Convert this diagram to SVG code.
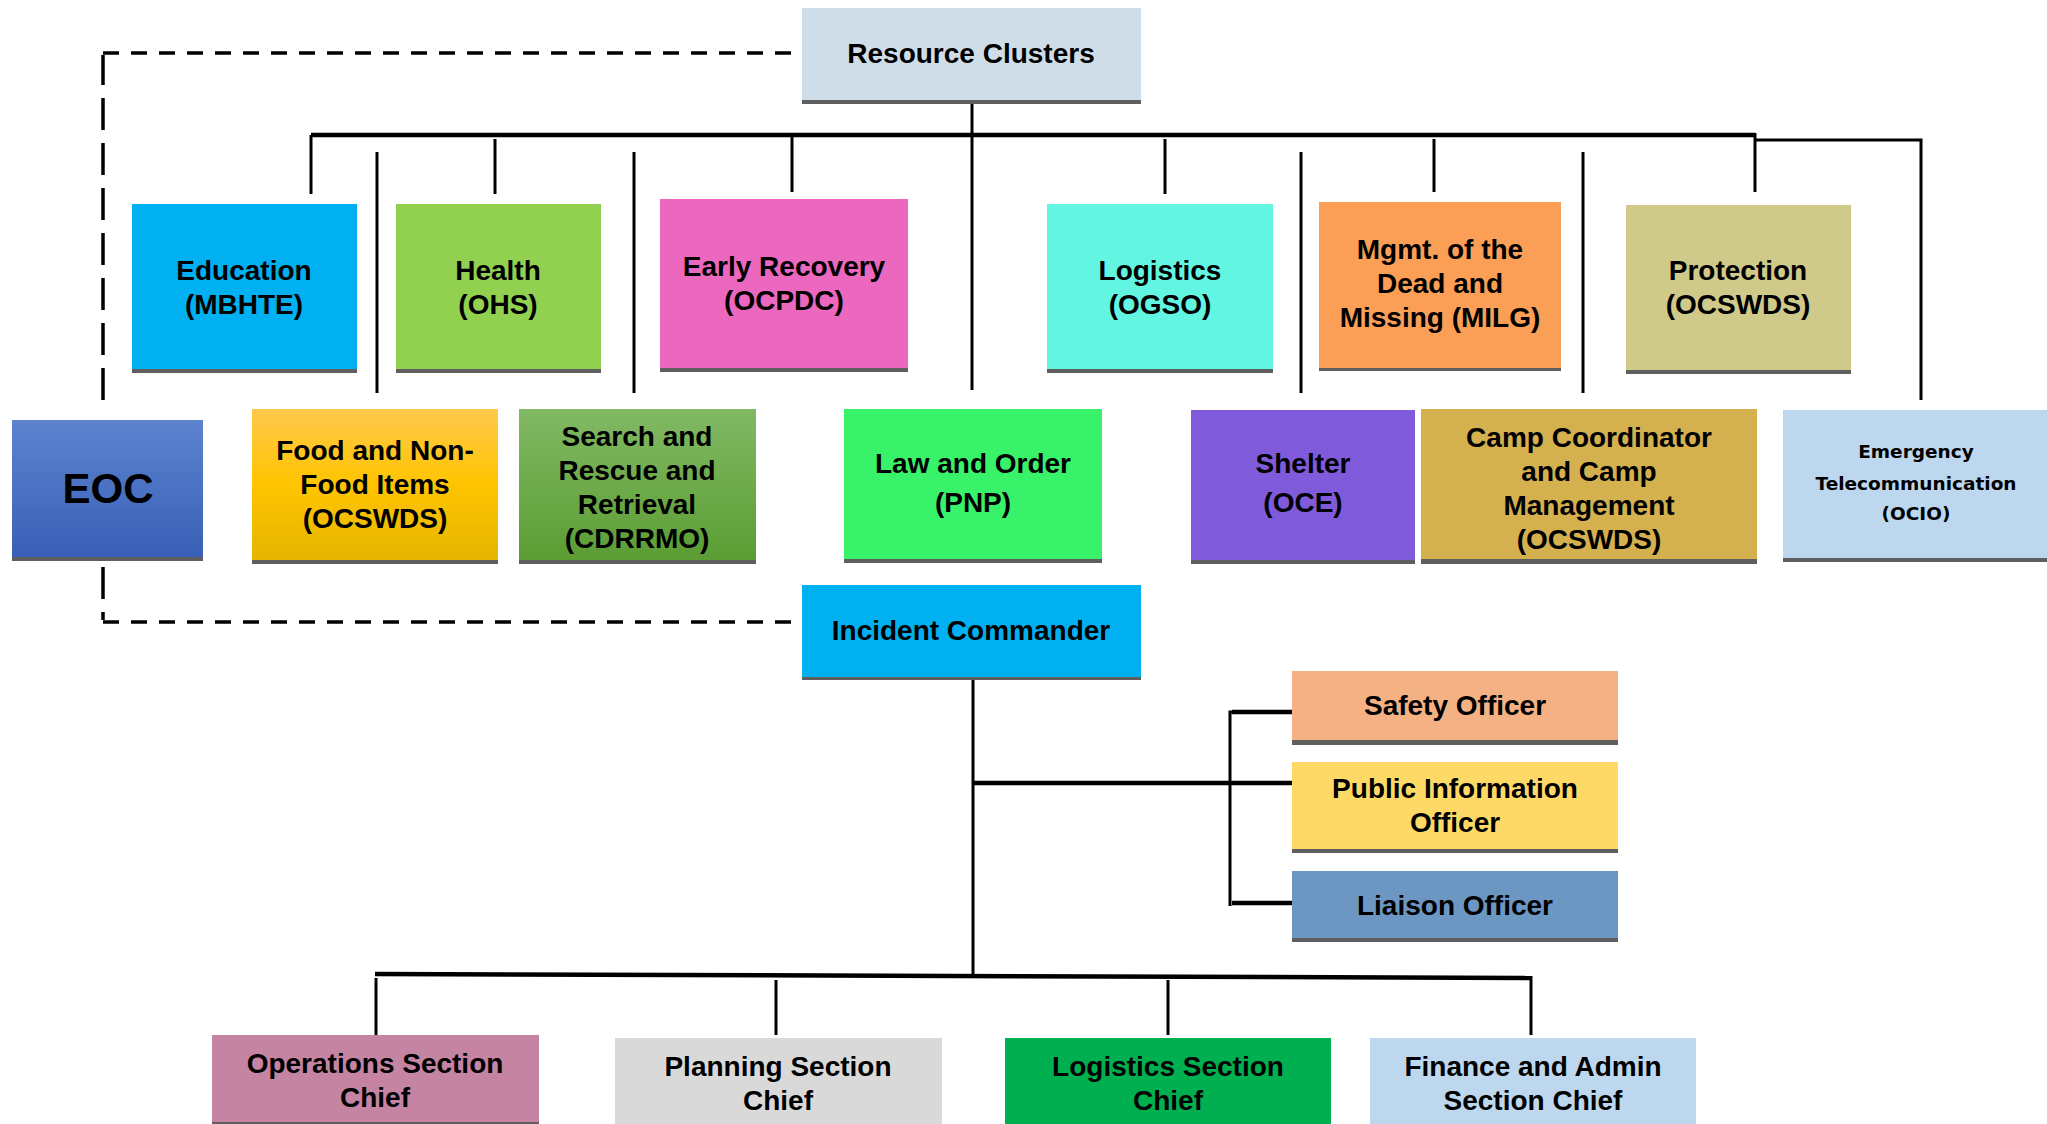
<svg xmlns="http://www.w3.org/2000/svg" width="2047" height="1124" viewBox="0 0 2047 1124">
<defs>
<style>
.t{font-family:"Liberation Sans",Arial,sans-serif;font-weight:bold;font-size:28px;fill:#000;text-anchor:middle}
.ts{font-family:"DejaVu Sans",sans-serif;font-weight:bold;font-size:18.5px;fill:#000;text-anchor:middle}
.sh{fill:#5f5f5f}
.ln{stroke:#000;stroke-width:3;fill:none}
.bus{stroke:#000;stroke-width:4.5;fill:none}
.dh{stroke:#000;stroke-width:3.5;fill:none;stroke-dasharray:16 12}
.dv{stroke:#000;stroke-width:3.5;fill:none;stroke-dasharray:32 13}
</style>
<linearGradient id="gEoc" x1="0" y1="0" x2="0" y2="1"><stop offset="0" stop-color="#5d83cf"/><stop offset="1" stop-color="#3860b6"/></linearGradient>
<linearGradient id="gFood" x1="0" y1="0" x2="0" y2="1"><stop offset="0" stop-color="#ffc94c"/><stop offset="0.5" stop-color="#ffc400"/><stop offset="1" stop-color="#e6b500"/></linearGradient>
<linearGradient id="gSar" x1="0" y1="0" x2="0" y2="1"><stop offset="0" stop-color="#82b964"/><stop offset="1" stop-color="#5b9d33"/></linearGradient>
</defs>
<rect width="2047" height="1124" fill="#fff"/>

<g id="connectors">
<path class="dv" d="M103,400 V55"/>
<path class="dh" d="M103,53 H792"/>
<path class="dv" d="M103,567 V620"/>
<path class="dh" d="M103,622 H792"/>
<path class="bus" d="M311,135 H1755"/>
<path class="ln" d="M972,103 V390"/>
<path class="ln" d="M311,135 V194"/>
<path class="ln" d="M377,152 V393"/>
<path class="ln" d="M495,139 V194"/>
<path class="ln" d="M634,152 V393"/>
<path class="ln" d="M792,135 V192"/>
<path class="ln" d="M1165,139 V194"/>
<path class="ln" d="M1301,152 V393"/>
<path class="ln" d="M1434,139 V192"/>
<path class="ln" d="M1583,152 V393"/>
<path class="ln" d="M1755,133 V192"/>
<path class="ln" d="M1755,140 H1921 V400"/>
<path class="ln" d="M973,680 V976"/>
<path class="bus" d="M973,783 H1292"/>
<path class="ln" d="M1292,712 H1230 V906"/>
<path class="bus" d="M1292,712 H1232"/>
<path class="bus" d="M1292,903 H1232"/>
<path class="bus" d="M375,974 L1531,978"/>
<path class="ln" d="M1531,976 V1035"/>
<path class="ln" d="M376,978 V1035"/>
<path class="ln" d="M776,980 V1035"/>
<path class="ln" d="M1168,980 V1035"/>
</g>

<g id="resource-clusters"><rect class="sh" x="802" y="11" width="339" height="93"/><rect x="802" y="8" width="339" height="92" fill="#cfdde9"/><text class="t" x="971" y="63">Resource Clusters</text></g>

<g id="education"><rect class="sh" x="132" y="207" width="225" height="166"/><rect x="132" y="204" width="225" height="165" fill="#00b0f0"/><text class="t" x="244" y="280">Education</text><text class="t" x="244" y="314">(MBHTE)</text></g>

<g id="health"><rect class="sh" x="396" y="207" width="205" height="166"/><rect x="396" y="204" width="205" height="165" fill="#92d050"/><text class="t" x="498" y="280">Health</text><text class="t" x="498" y="314">(OHS)</text></g>

<g id="early-recovery"><rect class="sh" x="660" y="202" width="248" height="170"/><rect x="660" y="199" width="248" height="169" fill="#ec67be"/><text class="t" x="784" y="276">Early Recovery</text><text class="t" x="784" y="310">(OCPDC)</text></g>

<g id="logistics"><rect class="sh" x="1047" y="207" width="226" height="166"/><rect x="1047" y="204" width="226" height="165" fill="#62f5e1"/><text class="t" x="1160" y="280">Logistics</text><text class="t" x="1160" y="314">(OGSO)</text></g>

<g id="mgmt-dead"><rect class="sh" x="1319" y="205" width="242" height="166"/><rect x="1319" y="202" width="242" height="166" fill="#fb9e56"/><text class="t" x="1440" y="259">Mgmt. of the</text><text class="t" x="1440" y="293">Dead and</text><text class="t" x="1440" y="327">Missing (MILG)</text></g>

<g id="protection"><rect class="sh" x="1626" y="208" width="225" height="166"/><rect x="1626" y="205" width="225" height="165" fill="#d0ca8a"/><text class="t" x="1738" y="280">Protection</text><text class="t" x="1738" y="314">(OCSWDS)</text></g>

<g id="eoc"><rect class="sh" x="12" y="423" width="191" height="138"/><rect x="12" y="420" width="191" height="137" fill="url(#gEoc)"/><text class="t" x="108" y="503" style="font-size:42px">EOC</text></g>

<g id="food"><rect class="sh" x="252" y="412" width="246" height="152"/><rect x="252" y="409" width="246" height="151" fill="url(#gFood)"/><text class="t" x="375" y="460">Food and Non-</text><text class="t" x="375" y="494">Food Items</text><text class="t" x="375" y="528">(OCSWDS)</text></g>

<g id="search-rescue"><rect class="sh" x="519" y="412" width="237" height="152"/><rect x="519" y="409" width="237" height="151" fill="url(#gSar)"/><text class="t" x="637" y="446">Search and</text><text class="t" x="637" y="480">Rescue and</text><text class="t" x="637" y="514">Retrieval</text><text class="t" x="637" y="548">(CDRRMO)</text></g>

<g id="law-order"><rect class="sh" x="844" y="412" width="258" height="151"/><rect x="844" y="409" width="258" height="150" fill="#38f26a"/><text class="t" x="973" y="473">Law and Order</text><text class="t" x="973" y="512">(PNP)</text></g>

<g id="shelter"><rect class="sh" x="1191" y="413" width="224" height="151"/><rect x="1191" y="410" width="224" height="150" fill="#7f5bdc"/><text class="t" x="1303" y="473">Shelter</text><text class="t" x="1303" y="512">(OCE)</text></g>

<g id="camp"><rect class="sh" x="1421" y="412" width="336" height="152"/><rect x="1421" y="409" width="336" height="150" fill="#d4b14e"/><text class="t" x="1589" y="447">Camp Coordinator</text><text class="t" x="1589" y="481">and Camp</text><text class="t" x="1589" y="515">Management</text><text class="t" x="1589" y="549">(OCSWDS)</text></g>

<g id="emergency-telecom"><rect class="sh" x="1783" y="413" width="270" height="149"/><rect x="1783" y="410" width="270" height="148" fill="#bdd7ee"/><text class="ts" x="1916" y="458">Emergency</text><text class="ts" x="1916" y="490">Telecommunication</text><text class="ts" x="1916" y="520">(OCIO)</text></g>

<g id="incident-commander"><rect class="sh" x="802" y="588" width="339" height="92"/><rect x="802" y="585" width="339" height="92" fill="#00b0f0"/><text class="t" x="971" y="640">Incident Commander</text></g>

<g id="safety-officer"><rect class="sh" x="1292" y="674" width="326" height="71"/><rect x="1292" y="671" width="326" height="69" fill="#f4b183"/><text class="t" x="1455" y="715">Safety Officer</text></g>

<g id="public-information-officer"><rect class="sh" x="1292" y="765" width="326" height="88"/><rect x="1292" y="762" width="326" height="87" fill="#ffd966"/><text class="t" x="1455" y="798">Public Information</text><text class="t" x="1455" y="832">Officer</text></g>

<g id="liaison-officer"><rect class="sh" x="1292" y="874" width="326" height="68"/><rect x="1292" y="871" width="326" height="67" fill="#6c97c2"/><text class="t" x="1455" y="915">Liaison Officer</text></g>

<g id="operations-chief"><rect class="sh" x="212" y="1038" width="327" height="86"/><rect x="212" y="1035" width="327" height="87" fill="#c484a2"/><text class="t" x="375" y="1073">Operations Section</text><text class="t" x="375" y="1107">Chief</text></g>

<g id="planning-chief"><rect x="615" y="1038" width="327" height="90" fill="#d9d9d9"/><text class="t" x="778" y="1076">Planning Section</text><text class="t" x="778" y="1110">Chief</text></g>

<g id="logistics-chief"><rect x="1005" y="1038" width="326" height="90" fill="#00b050"/><text class="t" x="1168" y="1076">Logistics Section</text><text class="t" x="1168" y="1110">Chief</text></g>

<g id="finance-chief"><rect x="1370" y="1038" width="326" height="90" fill="#bdd7ee"/><text class="t" x="1533" y="1076">Finance and Admin</text><text class="t" x="1533" y="1110">Section Chief</text></g>
</svg>
